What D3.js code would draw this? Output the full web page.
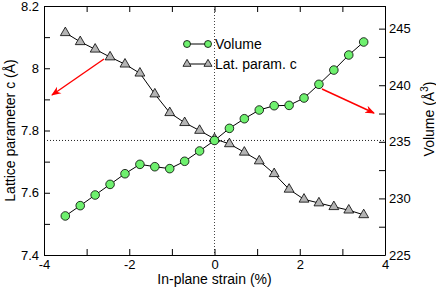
<!DOCTYPE html>
<html>
<head>
<meta charset="utf-8">
<script src="https://cdn.jsdelivr.net/npm/d3@7"></script>
<style>
  body { margin: 0; background: #fff; }
  svg { font-family: "Liberation Sans", Arial, sans-serif; }
  .tick text { font-size: 13px; fill: #000; }
  .axis-title { font-size: 14px; fill: #000; }
</style>
</head>
<body>
<div id="chart"></div>
<script>
// in-plane strain (%)
const strain = [-3.5, -3.15, -2.8, -2.45, -2.1, -1.75, -1.4, -1.05, -0.7, -0.35, 0,
                0.35, 0.7, 1.05, 1.4, 1.75, 2.1, 2.45, 2.8, 3.15, 3.5];
// lattice parameter c (Å), left axis
const latC = [8.114, 8.085, 8.061, 8.036, 8.013, 7.984, 7.917, 7.857, 7.825, 7.800, 7.773,
              7.757, 7.730, 7.702, 7.661, 7.611, 7.579, 7.567, 7.555, 7.544, 7.529];
// volume (Å^3), right axis
const volume = [228.45, 229.36, 230.30, 231.24, 232.18, 233.01, 232.80, 232.63, 233.28, 234.19, 235.12,
                236.19, 237.04, 237.81, 238.19, 238.22, 238.87, 240.08, 241.34, 242.67, 243.82];

const xTicks = [-4, -2, 0, 2, 4];
const xMinor = [-3, -1, 1, 3];
const leftTicks = [7.4, 7.6, 7.8, 8, 8.2];
const leftMinor = [7.5, 7.7, 7.9, 8.1];
const rightTicks = [225, 230, 235, 240, 245];
const rightMinor = [227.5, 232.5, 237.5, 242.5];

const chart = {
    width: 436,
    height: 288,
    margin: { top: 6, right: 51, bottom: 33, left: 44 },
    tick: 6
};

const plotW = chart.width - chart.margin.left - chart.margin.right;
const plotH = chart.height - chart.margin.top - chart.margin.bottom;

const svg = d3.select("#chart").append("svg")
    .attr("width", chart.width)
    .attr("height", chart.height);

const g = svg.append("g")
    .attr("transform", `translate(${chart.margin.left},${chart.margin.top})`);

const x = d3.scaleLinear().domain([-4, 4]).range([0, plotW]);
const yL = d3.scaleLinear().domain([7.4, 8.2]).range([plotH, 0]);
const yR = d3.scaleLinear().domain([225, 247]).range([plotH, 0]);

const fmt = d => (d < 0 ? "-" + Math.abs(d) : String(d));

// dotted reference lines
g.append("line")
    .attr("x1", x(0)).attr("x2", x(0))
    .attr("y1", 0).attr("y2", plotH)
    .attr("stroke", "#444").attr("stroke-width", 1)
    .attr("stroke-dasharray", "1,2");
g.append("line")
    .attr("x1", 0).attr("x2", plotW)
    .attr("y1", yR(235.12)).attr("y2", yR(235.12))
    .attr("stroke", "#222").attr("stroke-width", 1)
    .attr("stroke-dasharray", "1,2");

// axes (ticks point inward)
function styleAxis(sel) {
    sel.select(".domain").attr("stroke", "#000");
    sel.selectAll(".tick line").attr("stroke", "#000");
}

g.append("g")
    .attr("transform", `translate(0,${plotH})`)
    .call(d3.axisBottom(x).tickValues(xTicks.concat(xMinor)).tickSizeInner(-chart.tick).tickSizeOuter(0)
        .tickFormat(d => xTicks.includes(d) ? fmt(d) : "").tickPadding(5))
    .call(styleAxis);

g.append("g")
    .call(d3.axisTop(x).tickValues(xTicks.concat(xMinor)).tickSizeInner(-chart.tick).tickSizeOuter(0)
        .tickFormat(""))
    .call(styleAxis);

g.append("g")
    .call(d3.axisLeft(yL).tickValues(leftTicks.concat(leftMinor)).tickSizeInner(-chart.tick).tickSizeOuter(0)
        .tickFormat(d => leftTicks.includes(d) ? String(d) : "").tickPadding(5))
    .call(styleAxis);

g.append("g")
    .attr("transform", `translate(${plotW},0)`)
    .call(d3.axisRight(yR).tickValues(rightTicks.concat(rightMinor)).tickSizeInner(-chart.tick).tickSizeOuter(0)
        .tickFormat(d => rightTicks.includes(d) ? String(d) : "").tickPadding(4))
    .call(styleAxis);

g.selectAll(".domain").attr("stroke-width", 1);

// axis titles
svg.append("text").attr("class", "axis-title")
    .attr("x", chart.margin.left + x(0)).attr("y", 284)
    .attr("text-anchor", "middle")
    .text("In-plane strain (%)");

svg.append("text").attr("class", "axis-title")
    .attr("transform", `translate(15,${chart.margin.top + plotH / 2}) rotate(-90)`)
    .attr("text-anchor", "middle")
    .text("Lattice parameter c (Å)");

const rt = svg.append("text").attr("class", "axis-title")
    .attr("transform", `translate(434,119) rotate(-90)`)
    .attr("text-anchor", "middle");
rt.append("tspan").text("Volume (Å");
rt.append("tspan").attr("dy", -6).attr("font-size", 10).text("3");
rt.append("tspan").attr("dy", 6).text(")");

// series
const latData = strain.map((s, i) => [s, latC[i]]);
const volData = strain.map((s, i) => [s, volume[i]]);

g.append("path")
    .datum(latData)
    .attr("fill", "none").attr("stroke", "#000").attr("stroke-width", 1)
    .attr("d", d3.line().x(d => x(d[0])).y(d => yL(d[1])));

g.append("path")
    .datum(volData)
    .attr("fill", "none").attr("stroke", "#000").attr("stroke-width", 1)
    .attr("d", d3.line().x(d => x(d[0])).y(d => yR(d[1])));

const tri = d3.symbol().type(d3.symbolTriangle).size(42);

g.selectAll("path.tri")
    .data(latData)
    .enter().append("path")
    .attr("class", "tri")
    .attr("transform", d => `translate(${x(d[0])},${yL(d[1])})`)
    .attr("d", tri)
    .attr("fill", "#b4b4b4").attr("stroke", "#000").attr("stroke-width", 0.8);

g.selectAll("circle.vol")
    .data(volData)
    .enter().append("circle")
    .attr("class", "vol")
    .attr("cx", d => x(d[0])).attr("cy", d => yR(d[1]))
    .attr("r", 4.3)
    .attr("fill", "#6ef06e").attr("stroke", "#000").attr("stroke-width", 0.8);

// legend
const legend = svg.append("g").attr("transform", "translate(187,44)");
legend.append("line").attr("x1", 0).attr("x2", 21).attr("stroke", "#000");
legend.selectAll("circle").data([0, 21]).enter().append("circle")
    .attr("cx", d => d).attr("r", 3.5)
    .attr("fill", "#6ef06e").attr("stroke", "#000").attr("stroke-width", 0.8);
legend.append("text").attr("x", 28).attr("y", 5).attr("font-size", 14).text("Volume");

const legend2 = svg.append("g").attr("transform", "translate(187,64)");
legend2.append("line").attr("x1", 0).attr("x2", 21).attr("stroke", "#000");
legend2.selectAll("path").data([0, 21]).enter().append("path")
    .attr("transform", d => `translate(${d},0)`)
    .attr("d", d3.symbol().type(d3.symbolTriangle).size(28))
    .attr("fill", "#b4b4b4").attr("stroke", "#000").attr("stroke-width", 0.8);
legend2.append("text").attr("x", 28).attr("y", 5).attr("font-size", 14).text("Lat. param. c");

// red arrows
svg.append("defs").append("marker")
    .attr("id", "head").attr("viewBox", "0 0 10 10")
    .attr("refX", 9).attr("refY", 5)
    .attr("markerWidth", 7).attr("markerHeight", 7)
    .attr("orient", "auto")
    .append("path").attr("d", "M0,1 L10,5 L0,9 L3,5 Z").attr("fill", "#f00");

const arrows = [[104, 59, 52, 95], [322, 89, 374, 113]];
svg.selectAll("line.arrow")
    .data(arrows)
    .enter().append("line")
    .attr("class", "arrow")
    .attr("x1", d => d[0]).attr("y1", d => d[1])
    .attr("x2", d => d[2]).attr("y2", d => d[3])
    .attr("stroke", "#f00").attr("stroke-width", 1.4)
    .attr("marker-end", "url(#head)");
</script>
</body>
</html>
